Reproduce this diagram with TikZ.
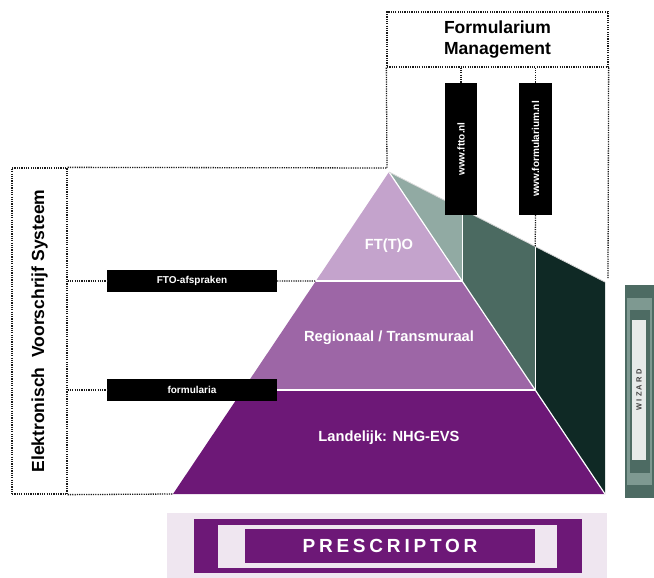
\documentclass[tikz,border=0pt]{standalone}
\usepackage{fontspec}
\usepackage{graphicx}
\setmainfont{Liberation Sans}
\usetikzlibrary{calc}

\definecolor{plumA}{HTML}{C4A3CC}
\definecolor{plumB}{HTML}{9D66A6}
\definecolor{plumC}{HTML}{6D1877}
\definecolor{sageA}{HTML}{91AAA3}
\definecolor{sageB}{HTML}{4B6A61}
\definecolor{sageC}{HTML}{0F2925}
\definecolor{lilacbg}{HTML}{EFE6F0}
\definecolor{wizout}{HTML}{4D6B63}
\definecolor{wizband}{HTML}{7E9991}
\definecolor{wizin}{HTML}{E6EAE9}
\definecolor{dotgrey}{HTML}{1A1A1A}

\tikzset{
  dotline/.style={draw=dotgrey, line width=1.3pt, dash pattern=on 1.2pt off 1.1pt},
  dotbox/.style={dotline, rectangle, inner sep=0pt},
  tag/.style={fill=black, text=white, inner sep=0pt, font=\fontsize{10}{12}\selectfont\bfseries},
  level/.style={text=white, inner sep=0pt, font=\fontsize{14.7}{17}\selectfont\bfseries},
  plate/.style={inner sep=0pt, anchor=north west},
  seam/.style={draw=white, line width=1.2pt},
}

\begin{document}
\begin{tikzpicture}[x=1pt,y=-1pt]
\useasboundingbox (0,0) rectangle (654,578);

% pyramid corners and layer boundaries
\coordinate (A) at (389,172);
\coordinate (BL) at (173,494);
\coordinate (BR) at (605,494);
\coordinate (TR) at (605,282);
\coordinate (L1) at ($(A)!0.3385!(BL)$);
\coordinate (R1) at ($(A)!0.3385!(BR)$);
\coordinate (L2) at ($(A)!0.677!(BL)$);
\coordinate (R2) at ($(A)!0.677!(BR)$);
\coordinate (T1) at ($(A)!0.3385!(TR)$);
\coordinate (T2) at ($(A)!0.677!(TR)$);

% side wedge (three panels)
\fill[sageA] (A) -- (T1) -- (R1) -- cycle;
\fill[sageB] (T1) -- (T2) -- (R2) -- (R1) -- cycle;
\fill[sageC] (T2) -- (TR) -- (BR) -- (R2) -- cycle;

% pyramid layers
\fill[plumA] (A) -- (R1) -- (L1) -- cycle;
\fill[plumB] (L1) -- (R1) -- (R2) -- (L2) -- cycle;
\fill[plumC] (L2) -- (R2) -- (BR) -- (BL) -- cycle;

% white seams
\draw[seam] (A) -- (BR);
\draw[seam] (L1) -- (R1);
\draw[seam] (L2) -- (R2);
\draw[seam] (T1) -- (R1);
\draw[seam] (T2) -- (R2);
\draw[draw=white!85!black, line width=0.8pt] (A) -- (TR);

% layer labels
\node[level] (lvlA) at (389,246) {FT(T)O};
\node[level] (lvlB) at (389,338) {Regionaal / Transmuraal};
\node[level] (lvlC) at (389,438) {Landelijk: NHG-EVS};

% Formularium Management box and its web tags
\node[dotbox, minimum width=221pt, minimum height=55pt, align=center,
      font=\fontsize{17.5}{21}\selectfont\bfseries] (fm) at (497.5,39.5)
      {Formularium\\Management};
\node[tag, minimum width=32pt, minimum height=132pt] (ftto) at (461,149)
      {\rotatebox{90}{www.ftto.nl}};
\node[tag, minimum width=33pt, minimum height=132pt] (fnl) at (535.5,149)
      {\rotatebox{90}{www.formularium.nl}};
\coordinate (fmcorner) at (387,168);
\coordinate (fmfoot) at (608,279);
\draw[dotline] (fm.south west) -- (fmcorner);
\draw[dotline] (fm.south east) -- (fmfoot);
\draw[dotline] (fm.south -| ftto.north) -- (ftto.north);
\draw[dotline] (fm.south -| fnl.north) -- (fnl.north);
\draw[dotline] (fnl.south) -- (T2);

% Elektronisch Voorschrijf Systeem box and its tags
\node[dotbox, minimum width=55pt, minimum height=326pt,
      font=\fontsize{17.5}{21}\selectfont\bfseries] (evs) at (39.5,331)
      {\rotatebox{90}{Elektronisch\ \ Voorschrijf Systeem}};
\draw[dotline] (evs.north east) -- (fmcorner);
\draw[dotline] (evs.south east) -- (BL);
\node[tag, minimum width=170pt, minimum height=22pt] (fto) at (192,281) {FTO-afspraken};
\node[tag, minimum width=170pt, minimum height=22pt] (form) at (192,390) {formularia};
\draw[dotline] (evs.east |- fto) -- (fto.west);
\draw[dotline] (fto.east) -- (L1);
\draw[dotline] (evs.east |- form) -- (form.west);

% PRESCRIPTOR bar
\fill[lilacbg] (167,513) rectangle (607,578);
\node[plate, fill=plumC, minimum width=388pt, minimum height=54pt] (presframe) at (194,519) {};
\node[plate, fill=lilacbg, minimum width=339pt, minimum height=43pt] (presgap) at (218,525) {};
\node[fill=plumC, text=white, inner sep=0pt, minimum width=290pt, minimum height=34pt,
      font=\fontsize{19}{22}\selectfont\bfseries\addfontfeature{LetterSpace=20}] (pres) at (390,546)
      {PRESCRIPTOR};

% WIZARD column
\node[plate, fill=wizout, minimum width=30pt, minimum height=213pt] (wizA) at (625,285) {};
\node[plate, fill=wizband, minimum width=25pt, minimum height=187pt] (wizB) at (627,298) {};
\node[plate, fill=wizout, minimum width=20pt, minimum height=163pt] (wizC) at (630,310) {};
\node[fill=wizin, inner sep=0pt, minimum width=14pt, minimum height=140pt,
      text=black!75, font=\fontsize{7.5}{9}\selectfont\bfseries\addfontfeature{LetterSpace=30}]
      (wiz) at (639,390) {\rotatebox{90}{WIZARD}};
\end{tikzpicture}
\end{document}
